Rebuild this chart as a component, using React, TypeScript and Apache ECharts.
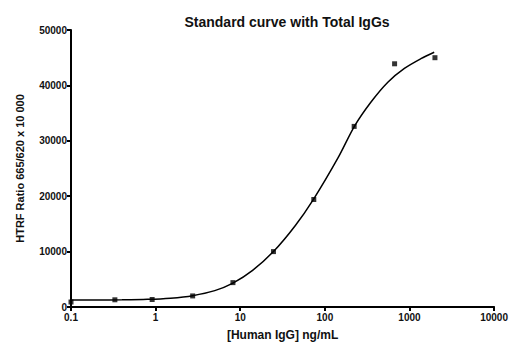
import React, { useEffect, useRef } from "react";
import * as echarts from "echarts";

const title = "Standard curve with Total IgGs";
const xAxisName = "[Human IgG] ng/mL";
const yAxisName = "HTRF Ratio 665/620 x 10 000";

// measured points
const pointX = [0.1, 0.33, 0.91, 2.74, 8.2, 24.7, 74, 222, 667, 2000];
const pointY = [900, 1300, 1350, 2000, 4400, 10000, 19400, 32600, 43900, 45000];

// fitted curve
const curveX = [0.1, 0.2, 0.4, 0.8, 1.5, 2.74, 5, 8.2, 14, 24.7, 44.6, 73, 144, 225, 353, 555, 871, 1365, 1960];
const curveY = [1250, 1260, 1290, 1380, 1600, 2050, 2950, 4300, 6600, 10000, 14660, 19380, 27000, 32700, 37050, 40580, 43060, 44820, 45990];

export default function App() {
  const ref = useRef<HTMLDivElement>(null);
  useEffect(() => {
    if (!ref.current) return;
    const chart = echarts.init(ref.current, null, { renderer: "svg" });
    const font = "Liberation Sans, Arial, sans-serif";
    chart.setOption({
      animation: false,
      backgroundColor: "#ffffff",
      title: {
        text: title,
        left: 282,
        top: 10,
        textAlign: "center",
        textStyle: { fontFamily: font, fontSize: 14, fontWeight: "bold", color: "#111" },
      },
      grid: { left: 71, right: 14, top: 30, bottom: 33 },
      xAxis: {
        type: "log",
        logBase: 10,
        min: 0.1,
        max: 10000,
        name: xAxisName,
        nameLocation: "middle",
        nameGap: 22,
        nameTextStyle: { fontFamily: font, fontSize: 12, fontWeight: "bold", color: "#111" },
        axisLine: { show: true, lineStyle: { color: "#000", width: 2 } },
        axisTick: { show: true, length: 4, lineStyle: { color: "#000", width: 2 } },
        minorTick: { show: false },
        splitLine: { show: false },
        axisLabel: {
          fontFamily: font,
          fontSize: 10,
          fontWeight: "bold",
          color: "#111",
          margin: 5,
          formatter: (v: number) => String(v),
        },
      },
      yAxis: {
        type: "value",
        min: 0,
        max: 50000,
        interval: 10000,
        name: yAxisName,
        nameLocation: "middle",
        nameGap: 46,
        nameTextStyle: { fontFamily: font, fontSize: 11, fontWeight: "bold", color: "#111" },
        axisLine: { show: true, lineStyle: { color: "#000", width: 2 } },
        axisTick: { show: true, length: 4, lineStyle: { color: "#000", width: 2 } },
        splitLine: { show: false },
        axisLabel: {
          fontFamily: font,
          fontSize: 10,
          fontWeight: "bold",
          color: "#111",
          margin: 4,
          formatter: (v: number) => String(v),
        },
      },
      series: [
        {
          type: "line",
          data: curveX.map((x, i) => [x, curveY[i]]),
          smooth: 0.3,
          showSymbol: false,
          lineStyle: { color: "#000", width: 1.5 },
          z: 2,
        },
        {
          type: "scatter",
          data: pointX.map((x, i) => [x, pointY[i]]),
          symbol: "rect",
          symbolSize: 5,
          itemStyle: { color: "#000" },
          z: 3,
        },
      ],
    });
    return () => chart.dispose();
  }, []);
  return <div ref={ref} style={{ width: 511, height: 346, position: "absolute", left: 0, top: 0 }} />;
}
